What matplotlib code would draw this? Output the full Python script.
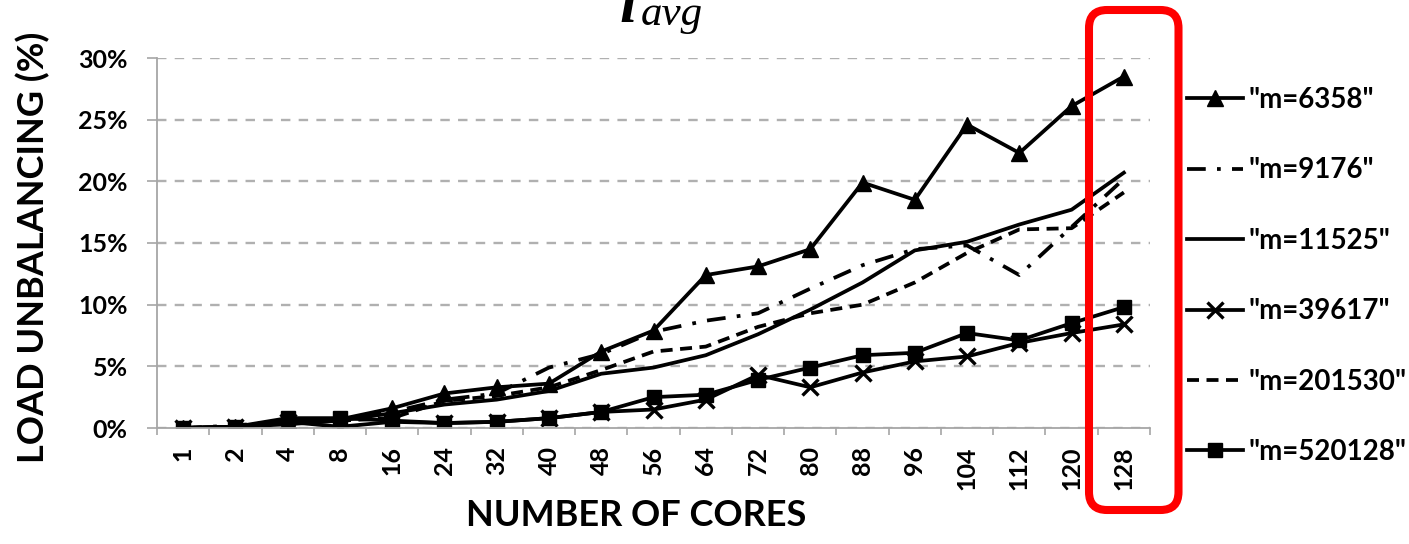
import numpy as np
import matplotlib.pyplot as plt
from matplotlib.patches import FancyBboxPatch
from matplotlib.transforms import IdentityTransform

plt.rcParams['font.family'] = ['Lato', 'DejaVu Sans']
plt.rcParams['font.weight'] = 'bold'

# dados
cores = ['1', '2', '4', '8', '16', '24', '32', '40', '48', '56', '64', '72',
         '80', '88', '96', '104', '112', '120', '128']

m6358 = [0, 0.1, 0.6, 0.7, 1.6, 2.8, 3.3, 3.6, 6.2, 7.9, 12.4, 13.1, 14.5,
         19.9, 18.5, 24.6, 22.3, 26.1, 28.5]
m9176 = [0, 0.2, 0.6, 0.7, 1.3, 2.3, 2.8, 4.9, 6.0, 7.8, 8.7, 9.3, 11.3,
         13.2, 14.5, 14.8, 12.4, 16.3, 20.2]
m11525 = [0, 0.1, 0.3, 0.6, 1.2, 1.9, 2.3, 3.0, 4.4, 4.9, 5.9, 7.6, 9.6,
          11.8, 14.4, 15.1, 16.5, 17.7, 20.7]
m39617 = [0, 0.1, 0.5, 0.1, 0.5, 0.4, 0.5, 0.8, 1.3, 1.5, 2.3, 4.3, 3.3,
          4.5, 5.4, 5.8, 6.9, 7.7, 8.4]
m201530 = [0, 0.1, 0.4, 0.6, 0.8, 2.2, 2.6, 3.3, 4.7, 6.2, 6.6, 8.2, 9.3,
           10.0, 11.8, 14.2, 16.1, 16.2, 19.1]
m520128 = [0, 0.1, 0.8, 0.8, 0.6, 0.4, 0.5, 0.8, 1.3, 2.5, 2.7, 3.9, 4.9,
           5.9, 6.1, 7.7, 7.1, 8.5, 9.8]

labels = ['"m=6358"', '"m=9176"', '"m=11525"', '"m=39617"', '"m=201530"', '"m=520128"']

fig = plt.figure(figsize=(14.09, 5.44), dpi=100)
ax = fig.add_axes([157/1409, 1-428/544, (1150-157)/1409, (428-58)/544])

x = np.arange(len(cores))
lw = 2.7
l1, = ax.plot(x, m6358, color='black', lw=lw, marker='^', ms=11)
l2, = ax.plot(x, m9176, color='black', lw=lw, dashes=(5, 3, 1, 3))
l3, = ax.plot(x, m11525, color='black', lw=lw)
l4, = ax.plot(x, m39617, color='black', lw=lw, marker='x', ms=12, mew=2.4)
l5, = ax.plot(x, m201530, color='black', lw=lw, dashes=(3.2, 2))
l6, = ax.plot(x, m520128, color='black', lw=lw, marker='s', ms=10)

ax.set_xlim(-0.5, len(cores) - 0.5)
ax.set_ylim(0, 30)
ax.set_yticks(np.arange(0, 31, 5))
ax.set_yticklabels([f'{v}%' for v in range(0, 31, 5)], fontsize=18)
ax.set_xticks(x)
ax.set_xticklabels(cores, rotation=90, fontsize=18)
ax.set_xticks(np.arange(-0.5, len(cores)), minor=True)
ax.tick_params(axis='x', which='major', length=0, pad=13)
ax.tick_params(axis='x', which='minor', length=5, color='#a6a6a6', width=1.2)
ax.tick_params(axis='y', length=7, color='#a6a6a6', width=1.2, pad=14)

for s in ['top', 'right']:
    ax.spines[s].set_visible(False)
for s in ['left', 'bottom']:
    ax.spines[s].set_color('#a6a6a6')
    ax.spines[s].set_linewidth(1.3)

ax.yaxis.grid(True, color='#b0b0b0', lw=1.7, dashes=(4, 3.5))
ax.set_axisbelow(True)

fig.text(636/1409, 1-515/544, 'NUMBER OF CORES', fontsize=26, ha='center', va='center')
fig.text(33/1409, 1-247/544, 'LOAD UNBALANCING (%)', fontsize=26, rotation=90,
         ha='center', va='center')

# pedaço da fórmula no topo (cortado na borda, como no original)
fig.text(619/1409, 1-22/544, 'i', fontsize=44, family='Liberation Serif',
         style='italic', weight='bold', va='baseline')
fig.text(641/1409, 1-25/544, 'avg', fontsize=31, family='Liberation Serif',
         style='italic', weight='normal', va='baseline')

ax.legend([l1, l2, l3, l4, l5, l6], labels, loc='center left',
          bbox_to_anchor=(1187/1409, 1-276/544), bbox_transform=fig.transFigure,
          frameon=False, fontsize=20, handlelength=2.0, handletextpad=0.2,
          labelspacing=1.6, numpoints=1, borderaxespad=0, borderpad=0)

# destaque vermelho
box = FancyBboxPatch((1089, 544-510), 1178.5-1089, 510-10,
                     boxstyle='round,pad=0,rounding_size=18',
                     transform=IdentityTransform(), fill=False,
                     edgecolor='#ff0000', lw=5.8)
fig.add_artist(box)

fig.savefig('out.png', dpi=100)
